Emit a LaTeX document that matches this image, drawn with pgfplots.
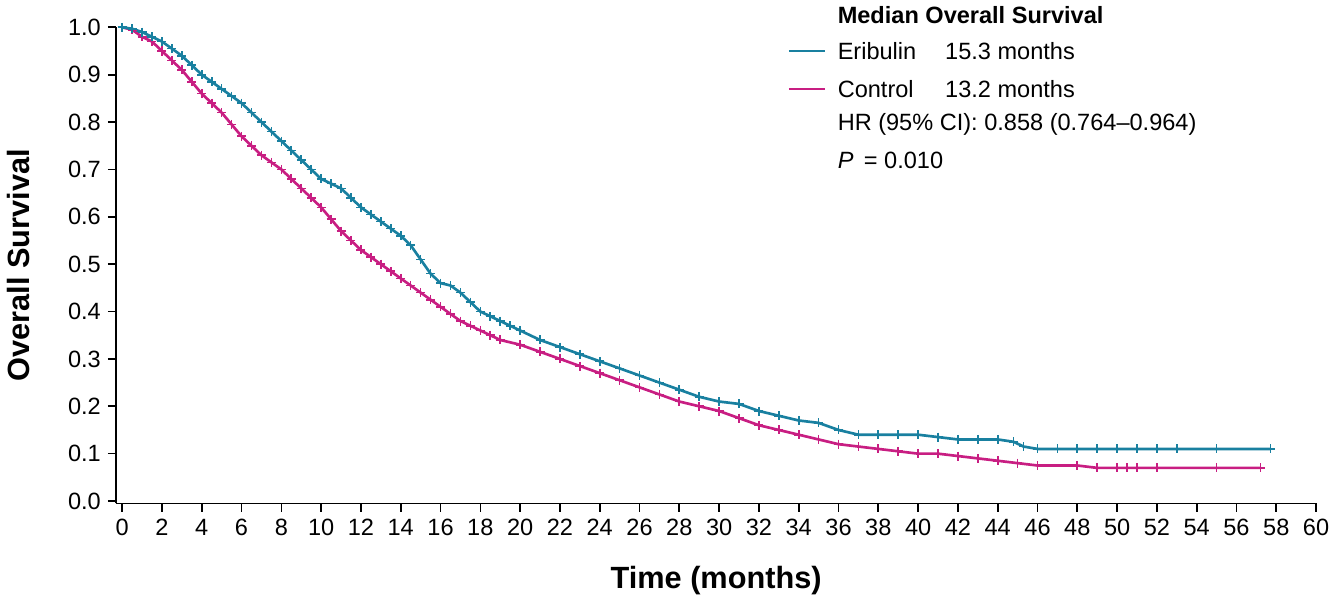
\documentclass[border=0pt]{standalone}
\usepackage{fontspec}
\setmainfont{Liberation Sans}
\usepackage{pgfplots}
\pgfplotsset{compat=1.18}
\definecolor{teal1}{RGB}{25,128,160}
\definecolor{mag1}{RGB}{200,30,130}
\begin{document}
\begin{tikzpicture}
\begin{axis}[
  scale only axis, width=586pt, height=232.5pt,
  xmin=-0.3, xmax=60, ymin=-0.005, ymax=1.0,
  axis lines=left, axis line style={-, thick},
  xtick={0,2,...,60}, ytick={0,0.1,...,1.0},
  yticklabel style={/pgf/number format/fixed,/pgf/number format/fixed zerofill,/pgf/number format/precision=1},
  /pgf/number format/assume math mode=true,
  tick align=outside, tick style={thick,black}, major tick length=4pt,
  ticklabel style={font=\fontsize{11.5}{13}\selectfont},
  xlabel={\textbf{Time (months)}}, ylabel={\textbf{Overall Survival}},
  label style={font=\fontsize{15}{17}\selectfont},
  xlabel style={yshift=-8pt}, ylabel style={yshift=12pt},
  clip=false,
]
\addplot[mag1, line width=1.3pt, mark=+, mark size=2.2pt, mark options={line width=0.8pt}] coordinates {
(0,1.0)(0.5,0.995)(1,0.98)(1.5,0.97)(2,0.95)(2.5,0.93)(3,0.91)(3.5,0.885)(4,0.86)(4.5,0.84)(5,0.82)(5.5,0.795)(6,0.77)(6.5,0.75)(7,0.73)(7.5,0.715)(8,0.70)(8.5,0.68)(9,0.66)(9.5,0.64)(10,0.62)(10.5,0.595)(11,0.57)(11.5,0.55)(12,0.53)(12.5,0.515)(13,0.50)(13.5,0.485)(14,0.47)(14.5,0.455)(15,0.44)(15.5,0.425)(16,0.41)(16.5,0.395)(17,0.38)(17.5,0.37)(18,0.36)(18.5,0.35)(19,0.34)(20,0.33)(21,0.315)(22,0.30)(23,0.285)(24,0.27)(25,0.255)(26,0.24)(27,0.225)(28,0.21)(29,0.20)(30,0.19)(31,0.175)(32,0.16)(33,0.15)(34,0.14)(35,0.13)(36,0.12)(37,0.115)(38,0.11)(39,0.105)(40,0.10)(41,0.10)(42,0.095)(43,0.09)(44,0.085)(45,0.08)(46,0.075)(48,0.075)(49,0.07)(50,0.07)(50.5,0.07)(51,0.07)(52,0.07)(55,0.07)(57.2,0.07)};
\addplot[teal1, line width=1.3pt, mark=+, mark size=2.2pt, mark options={line width=0.8pt}] coordinates {
(0,1.0)(0.5,0.997)(1,0.99)(1.5,0.98)(2,0.97)(2.5,0.955)(3,0.94)(3.5,0.92)(4,0.90)(4.5,0.885)(5,0.87)(5.5,0.855)(6,0.84)(6.5,0.82)(7,0.80)(7.5,0.78)(8,0.76)(8.5,0.74)(9,0.72)(9.5,0.70)(10,0.68)(10.5,0.67)(11,0.66)(11.5,0.64)(12,0.62)(12.5,0.605)(13,0.59)(13.5,0.575)(14,0.56)(14.5,0.54)(15,0.51)(15.5,0.48)(16,0.46)(16.5,0.455)(17,0.44)(17.5,0.42)(18,0.40)(18.5,0.39)(19,0.38)(19.5,0.37)(20,0.36)(21,0.34)(22,0.325)(23,0.31)(24,0.295)(25,0.28)(26,0.265)(27,0.25)(28,0.235)(29,0.22)(30,0.21)(31,0.205)(32,0.19)(33,0.18)(34,0.17)(35,0.165)(36,0.15)(37,0.14)(38,0.14)(39,0.14)(40,0.14)(41,0.135)(42,0.13)(43,0.13)(44,0.13)(44.8,0.125)(45.3,0.115)(46,0.11)(47,0.11)(48,0.11)(49,0.11)(50,0.11)(51,0.11)(52,0.11)(53,0.11)(55,0.11)(57.7,0.11)};
\draw[teal1, line width=1.3pt] (33.5,0.95) -- (35.3,0.95);
\draw[mag1, line width=1.3pt] (33.5,0.87) -- (35.3,0.87);
\node[anchor=west, font=\fontsize{11.5}{13}\selectfont\bfseries] at (35.6,1.025) {Median Overall Survival};
\node[anchor=west, font=\fontsize{11.5}{13}\selectfont] at (35.6,0.95) {Eribulin};
\node[anchor=west, font=\fontsize{11.5}{13}\selectfont] at (41.0,0.95) {15.3 months};
\node[anchor=west, font=\fontsize{11.5}{13}\selectfont] at (35.6,0.87) {Control};
\node[anchor=west, font=\fontsize{11.5}{13}\selectfont] at (41.0,0.87) {13.2 months};
\node[anchor=west, font=\fontsize{11.5}{13}\selectfont] at (35.6,0.795) {HR (95\% CI): 0.858 (0.764--0.964)};
\node[anchor=west, font=\fontsize{11.5}{13}\selectfont] at (35.6,0.72) {\textit{P}\, = 0.010};
\end{axis}
\end{tikzpicture}
\end{document}
